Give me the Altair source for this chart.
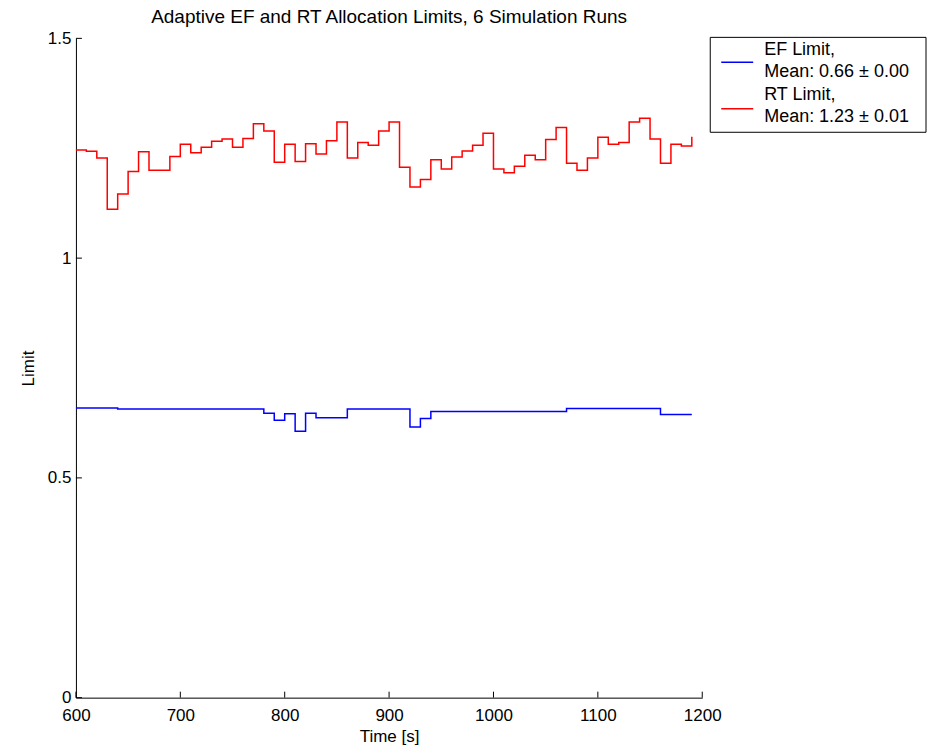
import altair as alt
import pandas as pd

time_s = [600, 610, 620, 630, 640, 650, 660, 670, 680, 690,
          700, 710, 720, 730, 740, 750, 760, 770, 780, 790,
          800, 810, 820, 830, 840, 850, 860, 870, 880, 890,
          900, 910, 920, 930, 940, 950, 960, 970, 980, 990,
          1000, 1010, 1020, 1030, 1040, 1050, 1060, 1070, 1080, 1090,
          1100, 1110, 1120, 1130, 1140, 1150, 1160, 1170, 1180, 1190]

ef_limit = [0.659, 0.659, 0.659, 0.659, 0.657, 0.657, 0.657, 0.657, 0.657, 0.657,
            0.657, 0.657, 0.657, 0.657, 0.657, 0.657, 0.657, 0.657, 0.647, 0.631,
            0.646, 0.606, 0.647, 0.637, 0.637, 0.637, 0.657, 0.657, 0.657, 0.657,
            0.657, 0.657, 0.616, 0.635, 0.651, 0.651, 0.651, 0.651, 0.651, 0.651,
            0.651, 0.651, 0.651, 0.651, 0.651, 0.651, 0.651, 0.658, 0.658, 0.658,
            0.658, 0.658, 0.658, 0.658, 0.658, 0.658, 0.644, 0.644, 0.644, 0.644]

rt_limit = [1.246, 1.243, 1.228, 1.111, 1.146, 1.197, 1.242, 1.200, 1.200, 1.231,
            1.259, 1.240, 1.252, 1.266, 1.271, 1.252, 1.272, 1.306, 1.289, 1.218,
            1.259, 1.220, 1.260, 1.237, 1.267, 1.310, 1.228, 1.263, 1.257, 1.289,
            1.310, 1.207, 1.162, 1.179, 1.224, 1.203, 1.230, 1.244, 1.257, 1.284,
            1.203, 1.194, 1.209, 1.234, 1.224, 1.270, 1.297, 1.216, 1.200, 1.228,
            1.275, 1.259, 1.263, 1.310, 1.318, 1.271, 1.216, 1.259, 1.255, 1.276]

series_names = ["EF Limit", "RT Limit"]
series_colors = ["#0000ff", "#ff0000"]
legend_lines = [["EF Limit,", "Mean: 0.66 \u00b1 0.00"],
                ["RT Limit,", "Mean: 1.23 \u00b1 0.01"]]

x_ticks = [600, 700, 800, 900, 1000, 1100, 1200]
y_ticks = [0, 0.5, 1, 1.5]

FONT = "Liberation Sans"
W, H = 627, 660

df = pd.concat([
    pd.DataFrame({"time": time_s, "value": ef_limit, "series": series_names[0]}),
    pd.DataFrame({"time": time_s, "value": rt_limit, "series": series_names[1]}),
])

x_enc = alt.X("time:Q", scale=alt.Scale(domain=[600, 1200], nice=False, zero=False),
              axis=alt.Axis(values=x_ticks, title="Time [s]", grid=False, ticks=False,
                            format="d", labelPadding=10, titlePadding=5, labelFlush=False))
y_enc = alt.Y("value:Q", scale=alt.Scale(domain=[0, 1.5], nice=False),
              axis=alt.Axis(values=y_ticks, title="Limit", grid=False, ticks=False,
                            labelPadding=5, titlePadding=10, labelFlush=False,
                            labelExpr="datum.value == 0 ? '0' : datum.value == 1 ? '1' : format(datum.value, '.1f')"))

lines = alt.Chart(df).mark_line(interpolate="step-after", strokeWidth=1.5).encode(
    x=x_enc, y=y_enc,
    color=alt.Color("series:N", scale=alt.Scale(domain=series_names, range=series_colors), legend=None),
    detail="series:N",
)

xt = alt.Chart(pd.DataFrame({"time": x_ticks})).mark_rule(color="black", strokeWidth=1).encode(
    x="time:Q", y=alt.value(H), y2=alt.value(H - 6))
yt = alt.Chart(pd.DataFrame({"value": y_ticks})).mark_rule(color="black", strokeWidth=1).encode(
    y="value:Q", x=alt.value(0), x2=alt.value(6))

one = pd.DataFrame({"k": [0]})
box = alt.Chart(one).mark_rect(fill="white", stroke="black", strokeWidth=1).encode(
    x=alt.value(635), x2=alt.value(851), y=alt.value(-1), y2=alt.value(94))

legend_layers = [box]
for i, (name, col) in enumerate(zip(series_names, series_colors)):
    ly = 24 + i * 46.5
    legend_layers.append(alt.Chart(one).mark_rule(color=col, strokeWidth=1.5).encode(
        x=alt.value(646), x2=alt.value(678), y=alt.value(ly)))
    for j, txt in enumerate(legend_lines[i]):
        legend_layers.append(alt.Chart(one).mark_text(
            align="left", baseline="middle", font=FONT, fontSize=18, color="black").encode(
            x=alt.value(689), y=alt.value(12 + i * 45 + j * 22), text=alt.value(txt)))

chart = alt.layer(lines, xt, yt, *legend_layers).properties(
    width=W, height=H,
    autosize="none",
    background="white",
    padding={"left": 68, "top": 30, "right": 225, "bottom": 50},
    title=alt.TitleParams("Adaptive EF and RT Allocation Limits, 6 Simulation Runs",
                          font=FONT, fontSize=19, fontWeight="normal", color="black",
                          anchor="middle", offset=2),
).configure_view(stroke=None).configure_axis(
    domainColor="black", domainWidth=1, labelColor="black", titleColor="black",
    labelFont=FONT, titleFont=FONT, labelFontSize=17, titleFontSize=17,
    titleFontWeight="normal",
)

chart.save("out.html", embed_options={"renderer": "svg", "actions": False})
